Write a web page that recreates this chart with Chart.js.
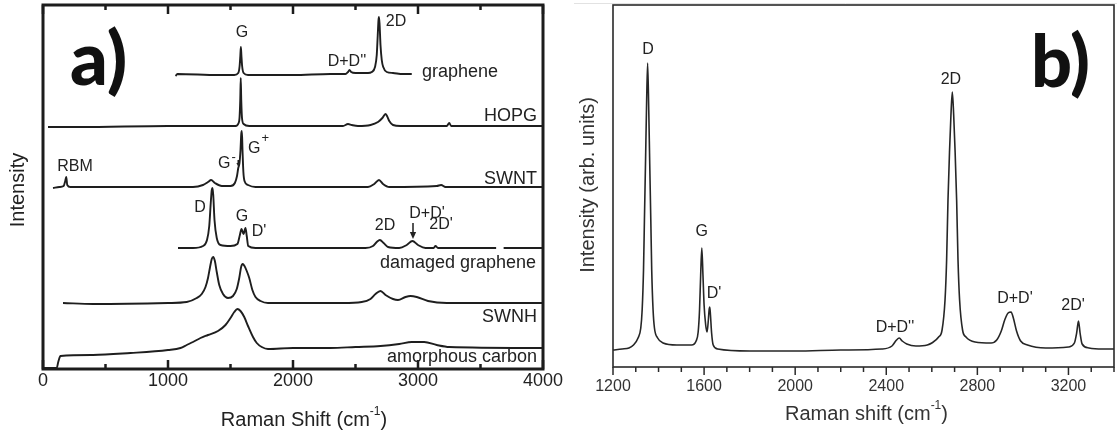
<!DOCTYPE html>
<html>
<head>
<meta charset="utf-8">
<script src="https://cdn.jsdelivr.net/npm/chart.js@4/dist/chart.umd.min.js"></script>
<style>
  html, body { margin: 0; padding: 0; background: #fff; }
  #wrap { position: relative; width: 1117px; height: 434px; overflow: hidden; background: #fff; }
  #panelA { position: absolute; left: 0; top: 0; }
  #panelB { position: absolute; left: 566px; top: 0; }
</style>
</head>
<body>
<div id="wrap">
  <canvas id="panelA" width="566" height="434"></canvas>
  <canvas id="panelB" width="551" height="434"></canvas>
</div>
<script>
// ---------- Panel a: stacked Raman spectra, [shift (cm-1), intensity incl. offset] ----------
const graphene = [[1060,293],[1075,295],[1400,294],[1530,294],[1562,296],[1573,303],[1579,314],[1583,322],[1587,314],[1593,303],[1605,296],[1640,294],[2000,294],[2300,295],[2420,295],[2440,297],[2452,299],[2465,297],[2500,296],[2600,296],[2630,297],[2656,302],[2670,314],[2678,334],[2684,349],[2688,352],[2693,344],[2700,324],[2710,309],[2722,302],[2750,297],[2800,296],[2880,295],[2950,295]];
const hopg = [[40,242],[300,242],[1000,243],[1540,243],[1565,246],[1572,251],[1578,269],[1582,291],[1586,269],[1592,251],[1605,245],[1650,243],[2400,243],[2440,245],[2470,244],[2520,243],[2620,244],[2680,247],[2715,251],[2740,255],[2752,253],[2770,248],[2800,244],[2860,243],[3230,243],[3250,246],[3265,243],[4000,243]];
const swnt = [[80,181],[130,182],[165,183],[178,188],[186,192],[194,184],[220,182],[800,182],[1200,182],[1280,184],[1320,187],[1345,189],[1375,186],[1430,183],[1500,183],[1535,186],[1552,193],[1562,201],[1572,206],[1580,219],[1586,235],[1591,238],[1596,219],[1603,197],[1612,188],[1640,184],[1700,182],[2600,182],[2650,185],[2688,189],[2720,185],[2770,182],[3150,183],[3185,184],[3220,182],[4000,182]];
const damagedGraphene = [[1080,121],[1200,121],[1280,123],[1312,129],[1330,143],[1342,166],[1350,179],[1356,181],[1362,174],[1372,149],[1390,131],[1420,124],[1500,123],[1555,125],[1575,134],[1588,140],[1604,135],[1620,141],[1630,133],[1642,123],[1700,121],[2200,121],[2580,121],[2640,123],[2670,127],[2695,129],[2725,126],[2760,122],[2850,121],[2910,124],[2955,128],[3000,124],[3060,121],[3125,121],[3140,123],[3160,121],[3625,121],[3650,null],[3685,121],[4000,121]];
const swnh = [[160,66],[400,65],[1000,66],[1150,67],[1230,71],[1270,75],[1300,82],[1320,91],[1335,101],[1350,110],[1362,112],[1375,108],[1390,97],[1410,84],[1440,75],[1480,71],[1520,73],[1550,80],[1570,91],[1585,102],[1597,105],[1612,103],[1630,98],[1650,91],[1675,79],[1700,72],[1740,68],[1800,66],[2400,66],[2550,67],[2620,70],[2660,75],[2700,78],[2740,74],[2800,70],[2840,69],[2900,72],[2940,73],[2990,72],[3080,68],[3230,66],[4000,66]];
const amorphousCarbon = [[0,1],[110,1],[122,7],[140,13],[400,14],[700,16],[1000,19],[1100,21],[1150,24],[1200,27],[1260,31],[1320,34],[1400,38],[1460,44],[1500,51],[1530,57],[1555,60],[1580,58],[1610,52],[1640,43],[1680,32],[1710,26],[1750,22],[1800,20],[2000,21],[2300,21],[2500,22],[2700,23],[2850,25],[2950,27],[3050,27],[3150,24],[3250,22],[4000,21]];
const ticksA = [0, 1000, 2000, 3000, 4000];

// ---------- Panel b: defective graphene spectrum ----------
const defectSpectrum = [[1200,17],[1240,18],[1270,19],[1290,22],[1310,29],[1322,39],[1328,57],[1334,97],[1338,147],[1343,207],[1347,257],[1352,304],[1357,257],[1361,207],[1366,147],[1370,97],[1376,57],[1382,39],[1396,29],[1420,24],[1480,22],[1545,22],[1565,26],[1574,35],[1580,57],[1585,92],[1590,119],[1595,92],[1600,62],[1607,42],[1613,35],[1618,45],[1622,57],[1625,60],[1628,52],[1633,34],[1640,22],[1660,18],[1800,16],[2000,16],[2200,17],[2380,18],[2425,21],[2445,27],[2457,29],[2470,26],[2490,23],[2530,21],[2580,22],[2600,24],[2630,30],[2645,37],[2658,67],[2665,107],[2671,167],[2678,217],[2684,252],[2690,275],[2696,252],[2702,217],[2709,167],[2715,107],[2722,67],[2735,37],[2750,30],[2790,25],[2860,24],[2885,27],[2905,36],[2920,47],[2935,54],[2948,55],[2958,49],[2972,36],[2990,26],[3020,22],[3100,19],[3200,20],[3226,24],[3236,34],[3244,46],[3251,34],[3260,23],[3290,19],[3350,18],[3400,18]];
const ticksB = [1200, 1600, 2000, 2400, 2800, 3200];

// Curve names and band assignments: [text, shift, intensity, align, superscript]
const labelsA = [
  ['G', 1592, 336, 'center'],
  ["D+D''", 2432, 307, 'center'],
  ['2D', 2824, 347, 'center'],
  ['graphene', 3032, 297, 'left'],
  ['HOPG', 3952, 253, 'right'],
  ['RBM', 256, 202, 'center'],
  ['G', 1400, 205, 'left', '-'],
  ['G', 1640, 220, 'left', '+'],
  ['SWNT', 3952, 190, 'right'],
  ['D', 1256, 161, 'center'],
  ['G', 1592, 152, 'center'],
  ["D'", 1728, 137, 'center'],
  ['2D', 2736, 143, 'center'],
  ["D+D'", 3072, 155, 'center'],
  ["2D'", 3184, 144, 'center'],
  ['damaged graphene', 2696, 106, 'left'],
  ['SWNH', 3952, 52, 'right'],
  ['amorphous carbon', 3952, 12, 'right']
];
const curveNames = ['graphene', 'HOPG', 'SWNT', 'damaged graphene', 'SWNH', 'amorphous carbon'];
const labelsB = [
  ['D', 1354, 317],
  ['G', 1590, 135],
  ["D'", 1644, 73],
  ["D+D''", 2438, 39],
  ['2D', 2684, 287],
  ["D+D'", 2965, 68],
  ["2D'", 3220, 61]
];

const FONT = '"Liberation Sans", Arial, Helvetica, sans-serif';
const INK = '#1c1c1c';

function text(ctx, s, x, y, size, align = 'center', weight = '') {
  ctx.font = `${weight} ${size}px ${FONT}`;
  ctx.textAlign = align;
  ctx.textBaseline = 'middle';
  ctx.fillText(s, x, y);
}

// Axis title with a raised exponent
function titleWithExponent(ctx, before, exp, after, cx, cy, size) {
  const small = Math.round(size * 0.62);
  ctx.font = `${size}px ${FONT}`;
  const w1 = ctx.measureText(before).width;
  const w3 = ctx.measureText(after).width;
  ctx.font = `${small}px ${FONT}`;
  const w2 = ctx.measureText(exp).width;
  const x0 = cx - (w1 + w2 + w3) / 2;
  ctx.textAlign = 'left';
  ctx.textBaseline = 'middle';
  ctx.font = `${size}px ${FONT}`;
  ctx.fillText(before, x0, cy);
  ctx.font = `${small}px ${FONT}`;
  ctx.fillText(exp, x0 + w1, cy - size * 0.42);
  ctx.font = `${size}px ${FONT}`;
  ctx.fillText(after, x0 + w1 + w2, cy);
}

function rotated(ctx, s, x, y, size) {
  ctx.save();
  ctx.translate(x, y);
  ctx.rotate(-Math.PI / 2);
  text(ctx, s, 0, 0, size);
  ctx.restore();
}

function arrowDown(ctx, x, y0, y1, head) {
  ctx.beginPath();
  ctx.moveTo(x, y0);
  ctx.lineTo(x, y1 - head);
  ctx.stroke();
  ctx.beginPath();
  ctx.moveTo(x - head * 0.45, y1 - head);
  ctx.lineTo(x + head * 0.45, y1 - head);
  ctx.lineTo(x, y1);
  ctx.closePath();
  ctx.fill();
}

const decorA = {
  id: 'decorA',
  afterDraw(chart) {
    const { ctx, chartArea: { left, right, top, bottom }, scales: { x, y } } = chart;
    ctx.save();
    ctx.strokeStyle = INK;
    ctx.fillStyle = INK;

    // frame
    ctx.lineWidth = 3;
    ctx.strokeRect(left, top, right - left, bottom - top);

    // inward ticks every 500, longer at 1000
    ctx.lineWidth = 2.5;
    for (let v = 0; v <= 4000; v += 500) {
      const px = x.getPixelForValue(v);
      const len = v % 1000 === 0 ? 9 : 5;
      ctx.beginPath();
      ctx.moveTo(px, bottom); ctx.lineTo(px, bottom - len);
      ctx.moveTo(px, top); ctx.lineTo(px, top + len);
      ctx.stroke();
    }

    // tick labels
    ctx.fillStyle = '#222';
    ticksA.forEach(v => text(ctx, String(v), x.getPixelForValue(v), bottom + 12, 18));

    // axis titles
    titleWithExponent(ctx, 'Raman Shift (cm', '-1', ')', (left + right) / 2 + 11, 420, 20);
    rotated(ctx, 'Intensity', 18.5, (top + bottom) / 2 + 3, 20);

    // curve and band labels
    labelsA.forEach(([s, xv, yv, align, sup]) => {
      const size = curveNames.includes(s) ? 18 : 16;
      const px = x.getPixelForValue(xv), py = y.getPixelForValue(yv);
      text(ctx, s, px, py, size, align);
      if (sup) {
        ctx.font = `${size}px ${FONT}`;
        const w = ctx.measureText(s).width;
        text(ctx, sup, px + w + 1, py + (sup === '+' ? -11 : -7), 13, 'left');
      }
    });

    // arrows marking the D+D' band and the G- shoulder
    ctx.lineWidth = 1.5;
    arrowDown(ctx, x.getPixelForValue(2960), y.getPixelForValue(146), y.getPixelForValue(130), 7);
    arrowDown(ctx, x.getPixelForValue(1562), y.getPixelForValue(209), y.getPixelForValue(202), 4);

    // panel tag
    ctx.fillStyle = '#111';
    ctx.font = `900 74px Lato, Inter, "DejaVu Sans", sans-serif`;
    ctx.textAlign = 'left';
    ctx.textBaseline = 'alphabetic';
    ctx.fillText('a)', 70, 85);
    ctx.restore();
  }
};

const decorB = {
  id: 'decorB',
  afterDraw(chart) {
    const { ctx, chartArea: { left, right, top, bottom }, scales: { x, y } } = chart;
    ctx.save();

    // faint rule along the top edge
    ctx.strokeStyle = '#e2e2e2';
    ctx.lineWidth = 1;
    ctx.beginPath();
    ctx.moveTo(8, 3.5); ctx.lineTo(chart.width, 3.5);
    ctx.stroke();

    ctx.strokeStyle = '#2a2a2a';
    ctx.fillStyle = '#2a2a2a';
    ctx.lineWidth = 1.6;
    ctx.strokeRect(left, top, right - left, bottom - top);

    // outward ticks every 100, longer at labelled values
    ctx.lineWidth = 1.5;
    for (let v = 1200; v <= 3400; v += 100) {
      const px = x.getPixelForValue(v);
      const len = (v - 1200) % 400 === 0 ? 8 : 5;
      ctx.beginPath();
      ctx.moveTo(px, bottom); ctx.lineTo(px, bottom + len);
      ctx.stroke();
    }

    ctx.fillStyle = '#333';
    ticksB.forEach(v => text(ctx, String(v), x.getPixelForValue(v), bottom + 20, 16));

    titleWithExponent(ctx, 'Raman shift (cm', '-1', ')', (left + right) / 2 + 3, 414, 20);
    rotated(ctx, 'Intensity (arb. units)', 22, 185, 20);

    ctx.fillStyle = '#222';
    labelsB.forEach(([s, xv, yv]) => text(ctx, s, x.getPixelForValue(xv), y.getPixelForValue(yv), 16));

    ctx.fillStyle = '#111';
    ctx.font = `900 72px Lato, Inter, "DejaVu Sans", sans-serif`;
    ctx.textAlign = 'left';
    ctx.textBaseline = 'alphabetic';
    ctx.fillText('b)', 465, 87);
    ctx.restore();
  }
};

function lineSet(points, color, width) {
  return {
    data: points.map(([x, y]) => ({ x, y })),
    borderColor: color,
    borderWidth: width,
    pointRadius: 0,
    fill: false,
    spanGaps: false,
    cubicInterpolationMode: 'monotone'
  };
}

const common = {
  responsive: false,
  animation: false,
  events: [],
  plugins: { legend: { display: false }, tooltip: { enabled: false } }
};

new Chart(document.getElementById('panelA'), {
  type: 'line',
  data: {
    datasets: [graphene, hopg, swnt, damagedGraphene, swnh, amorphousCarbon].map(p => lineSet(p, '#1e1e1e', 1.9))
  },
  options: {
    ...common,
    layout: { padding: { left: 43, right: 23, top: 5, bottom: 65 } },
    scales: {
      x: { type: 'linear', min: 0, max: 4000, display: false },
      y: { type: 'linear', min: 0, max: 364, display: false }
    }
  },
  plugins: [decorA]
});

new Chart(document.getElementById('panelB'), {
  type: 'line',
  data: { datasets: [lineSet(defectSpectrum, '#262626', 1.6)] },
  options: {
    ...common,
    layout: { padding: { left: 47, right: 3, top: 5, bottom: 67 } },
    scales: {
      x: { type: 'linear', min: 1200, max: 3400, display: false },
      y: { type: 'linear', min: 0, max: 362, display: false }
    }
  },
  plugins: [decorB]
});
</script>
</body>
</html>
